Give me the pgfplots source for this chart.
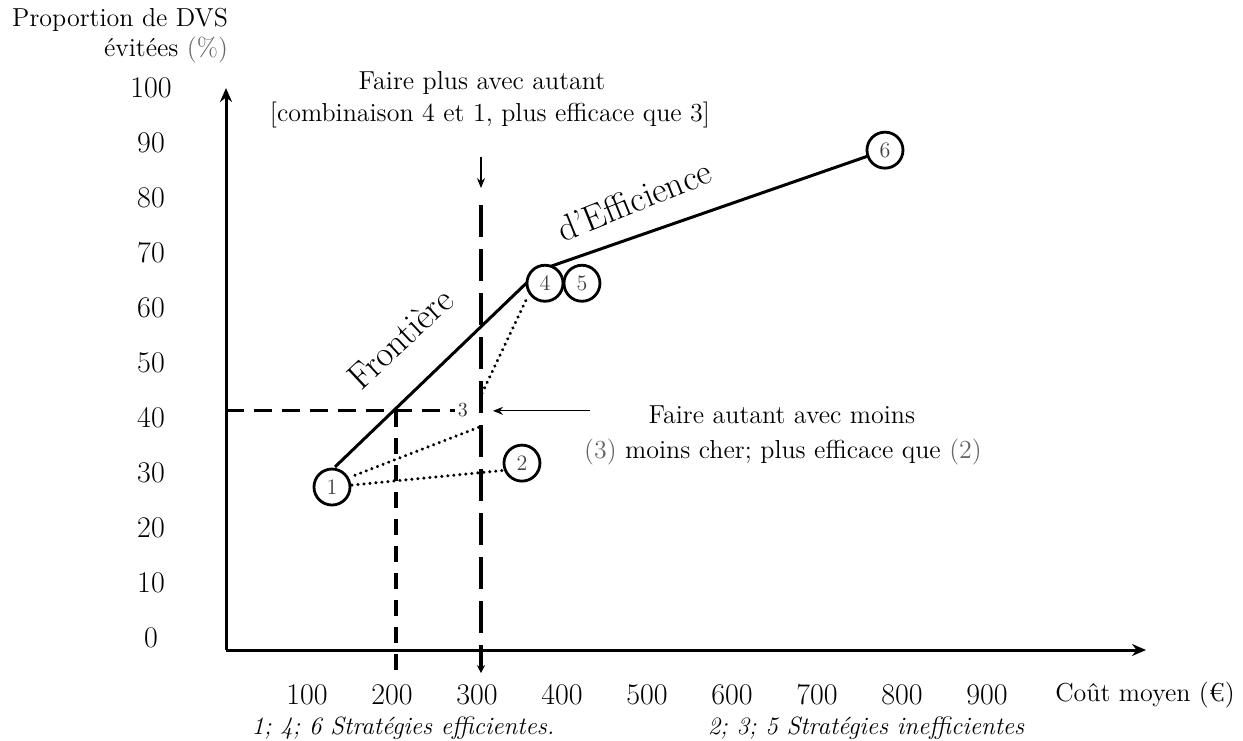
\documentclass[border=0pt]{standalone}
\usepackage{pgfplots}
\pgfplotsset{compat=1.18}
\usetikzlibrary{arrows.meta}
\newcommand\ft{\fontsize{13}{15}\selectfont}
\begin{document}
\begin{tikzpicture}
\path[use as bounding box] (0,0) rectangle (621.5pt,370pt);
\begin{axis}[
 at={(113pt,45pt)}, anchor=south west,
 scale only axis, width=460pt, height=281pt,
 xmin=0, xmax=1082.4, ymin=-2.18, ymax=100,
 axis lines=left,
 axis line style={line width=1.5pt, -{Stealth[length=7pt,width=6pt]}},
 xtick={100,200,...,900}, ytick={0,10,...,100},
 tick align=center, major tick length=4pt,
 tick style={white, line width=0.8pt},
 clip=false,
 /pgf/number format/assume math mode=true,
 ticklabel style={font=\fontsize{15}{17}\selectfont},
 xticklabel style={anchor=center, yshift=-20.5pt, xshift=-2pt},
 yticklabel style={anchor=center, xshift=-35.5pt},
]
% dashed reference lines
\addplot[line width=1.6pt, dash pattern=on 9pt off 5pt] coordinates {(0,41.3) (269,41.3)};
\addplot[line width=1.6pt, dash pattern=on 8pt off 5.5pt] coordinates {(200,41.3) (200,-6.4)};
\addplot[line width=1.6pt, dash pattern=on 16pt off 6pt, -{Stealth[length=4pt,width=4pt]}] coordinates {(300,78.7) (300,-6.4)};
% annotation arrows
\addplot[line width=0.6pt, -{Stealth[length=5pt,width=4pt]}] coordinates {(300,87.5) (300,81.8)};
\addplot[line width=0.6pt, -{Stealth[length=5pt,width=4pt]}] coordinates {(428.2,41.3) (314.1,41.3)};
% efficiency frontier
\addplot[line width=1.5pt] coordinates {(128.2,31.1) (369.4,66.9) (775.3,88.7)};
% dotted links
\addplot[line width=1.7pt, line cap=round, dash pattern=on 0.01pt off 3pt] coordinates {(148.2,27.8) (328.2,30.5)};
\addplot[line width=1.7pt, line cap=round, dash pattern=on 0.01pt off 3pt] coordinates {(151.8,29.6) (298.8,38.4)};
\addplot[line width=1.7pt, line cap=round, dash pattern=on 0.01pt off 3pt] coordinates {(301.2,44.5) (354.1,61.8)};
% strategies
\addplot[only marks, mark=*, mark size=9pt,
  mark options={draw=black, fill=white, line width=1.4pt},
  nodes near coords, point meta=explicit symbolic,
  nodes near coords style={anchor=center, font=\fontsize{11}{13}\selectfont, text=black!75}]
  table[meta=lab] {
x y lab
124.7 27.45 1
348.2 31.8 2
375.3 64.5 4
418.8 64.5 5
775.3 88.7 6
};
\node[font=\fontsize{10}{12}\selectfont, text=black!80] at (axis cs:278.8,41.5) {3};
% texts
\node[font=\ft] at (axis cs:301.2,100.9) {Faire plus avec autant};
\node[font=\ft] at (axis cs:310.6,95.1) {[combinaison 4 et 1, plus efficace que 3]};
\node[font=\fontsize{18}{20}\selectfont, rotate=43] at (axis cs:205,54.5) {Frontière};
\node[font=\fontsize{18}{20}\selectfont, rotate=22] at (axis cs:480,79.6) {d’Efficience};
\node[font=\ft] at (axis cs:654,40.5) {Faire autant avec moins};
\node[font=\ft] at (axis cs:655.3,33.8) {{\color{black!60}(3)} moins cher; plus efficace que {\color{black!60}(2)}};
\end{axis}
\node[font=\ft, anchor=east] at (117.5pt,360pt) {Proportion de DVS};
\node[font=\ft, anchor=east] at (117.5pt,345pt) {évitées {\color{black!60}(\%)}};
\node[font=\ft] at (572.5pt,22.5pt) {Coût moyen (€)};
\node[font=\fontsize{12.5}{14}\selectfont\itshape] at (201.5pt,6pt) {1; 4; 6 Stratégies efficientes.};
\node[font=\fontsize{12.5}{14}\selectfont\itshape] at (433pt,6pt) {2; 3; 5 Stratégies inefficientes};
\end{tikzpicture}
\end{document}
